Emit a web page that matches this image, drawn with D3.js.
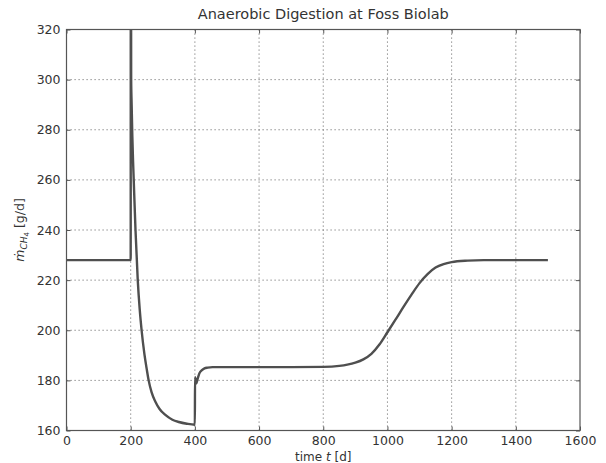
<!DOCTYPE html>
<html><head><meta charset="utf-8">
<script src="https://cdn.jsdelivr.net/npm/d3@7"></script>
<style>
body{margin:0;background:#fff;}
text{font-family:"DejaVu Sans",sans-serif;fill:#333;}
</style></head>
<body><svg id="c" width="606" height="463"></svg>
<script>
const title = "Anaerobic Digestion at Foss Biolab";
const xTicks = [0,200,400,600,800,1000,1200,1400,1600];
const yTicks = [160,180,200,220,240,260,280,300,320];
// time [d]
const tValues = [0,200,200,200.4,201.5,203,205,207.5,210,215,222,228,234,243,250,256,265,277,290,308,330,350,375,399.6,
  400,400.4,404,409,414,422,430,440,455,500,600,700,800,850,875,900,925,950,975,1000,1025,1050,1075,1100,1125,1150,1175,1200,1250,1300,1350,1400,1500];
// methane flow [g/d]
const mValues = [228,228,228,420,300,290,278,267,258,240,220,208.5,200,190.3,184.5,180,175.3,171.5,168.6,166.2,164.3,163.4,162.7,162.3,
  162.3,181.3,178.8,180.8,182.8,184.1,184.8,185.1,185.3,185.3,185.3,185.3,185.4,185.8,186.3,187.1,188.4,190.6,194.3,199.2,204.2,209.3,214.2,218.8,222.4,225,226.4,227.2,227.8,228,228,228,228];

const svg = d3.select("#c");
const L=66.5, R=580, T=29.5, B=430.5;
const x = d3.scaleLinear().domain([0,1600]).range([L,R]);
const y = d3.scaleLinear().domain([160,320]).range([B,T]);

// grid
const g = svg.append("g");
g.selectAll(".gx").data(xTicks.slice(1,-1)).enter().append("line")
  .attr("x1",d=>x(d)).attr("x2",d=>x(d)).attr("y1",T).attr("y2",B)
  .attr("stroke","#777").attr("stroke-width",1).attr("stroke-dasharray","1.2,2.8");
g.selectAll(".gy").data(yTicks.slice(1,-1)).enter().append("line")
  .attr("y1",d=>y(d)).attr("y2",d=>y(d)).attr("x1",L).attr("x2",R)
  .attr("stroke","#777").attr("stroke-width",1).attr("stroke-dasharray","1.2,2.8");

// clip
svg.append("clipPath").attr("id","clip").append("rect")
  .attr("x",L).attr("y",T).attr("width",R-L).attr("height",B-T);

const pts = tValues.map((t,i)=>[t,mValues[i]]);
const line = d3.line().x(d=>x(d[0])).y(d=>y(d[1])).curve(d3.curveMonotoneX);
svg.append("path").datum(pts).attr("d",line).attr("clip-path","url(#clip)")
  .attr("fill","none").attr("stroke","#4f4f4f").attr("stroke-width",2.4)
  .attr("stroke-linejoin","round");

// axes (ticks inward, matplotlib classic)
const ax = svg.append("g").attr("transform",`translate(0,${B})`)
  .call(d3.axisBottom(x).tickValues(xTicks).tickSize(-4).tickPadding(6).tickFormat(d3.format("d")));
const axT = svg.append("g").attr("transform",`translate(0,${T})`)
  .call(d3.axisTop(x).tickValues(xTicks).tickSize(-4).tickFormat(""));
const ay = svg.append("g").attr("transform",`translate(${L},0)`)
  .call(d3.axisLeft(y).tickValues(yTicks).tickSize(-4).tickPadding(6).tickFormat(d3.format("d")));
const ayR = svg.append("g").attr("transform",`translate(${R},0)`)
  .call(d3.axisRight(y).tickValues(yTicks).tickSize(-4).tickFormat(""));
[ax,axT,ay,ayR].forEach(a=>{
  a.select(".domain").remove();
  a.selectAll("line").attr("stroke","#555");
  a.selectAll("text").attr("font-size",12.5).attr("fill","#333").attr("font-family","DejaVu Sans");
});
svg.append("rect").attr("x",L).attr("y",T).attr("width",R-L).attr("height",B-T)
  .attr("fill","none").attr("stroke","#555").attr("stroke-width",1.2);

// title
svg.append("text").attr("x",(L+R)/2).attr("y",19).attr("text-anchor","middle")
  .attr("font-size",14.5).text(title);
// x label
const xl = svg.append("text").attr("x",(L+R)/2).attr("y",461).attr("text-anchor","middle").attr("font-size",12);
xl.append("tspan").text("time ");
xl.append("tspan").attr("font-style","italic").text("t");
xl.append("tspan").text(" [d]");
// y label
const yl = svg.append("text").attr("transform",`translate(24,${(T+B)/2}) rotate(-90)`)
  .attr("text-anchor","middle").attr("font-size",12.5);
yl.append("tspan").attr("font-style","italic").text("ṁ");
yl.append("tspan").attr("font-style","italic").attr("font-size",9).attr("dy",3).text("CH");
yl.append("tspan").attr("font-size",7).attr("dy",2).text("4");
yl.append("tspan").attr("dy",-5).text(" [g/d]");
</script></body></html>
